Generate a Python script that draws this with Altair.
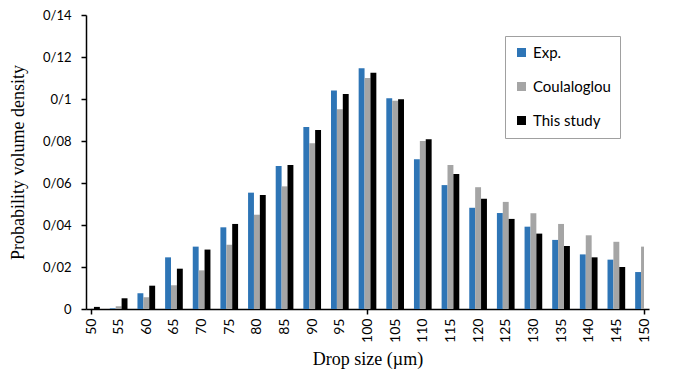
import altair as alt
import pandas as pd

sizes = [50, 55, 60, 65, 70, 75, 80, 85, 90, 95, 100, 105, 110, 115, 120, 125, 130, 135, 140, 145, 150]
exp_vals = [0.001, 0.0003, 0.0075, 0.0246, 0.0297, 0.0389, 0.0554, 0.0681, 0.0867, 0.1041, 0.1146,
            0.1003, 0.0713, 0.0590, 0.0482, 0.0457, 0.0392, 0.0329, 0.0260, 0.0235, 0.0176]
coul_vals = [0.0003, 0.0013, 0.0056, 0.0113, 0.0184, 0.0306, 0.0449, 0.0584, 0.0789, 0.0951, 0.1100,
             0.0992, 0.0800, 0.0686, 0.0580, 0.0510, 0.0456, 0.0405, 0.0351, 0.0320, 0.0297]
study_vals = [0.001, 0.0051, 0.0111, 0.0192, 0.0283, 0.0405, 0.0543, 0.0686, 0.0852, 0.1024, 0.1125,
              0.0999, 0.0808, 0.0643, 0.0525, 0.0429, 0.0359, 0.0300, 0.0246, 0.0200, 0.0170]
series = ["Exp.", "Coulaloglou", "This study"]
colors = ["#2E75B6", "#A5A5A5", "#000000"]
y_ticks = [0, 0.02, 0.04, 0.06, 0.08, 0.10, 0.12, 0.14]

rows = []
for j, (name, vals) in enumerate(zip(series, [exp_vals, coul_vals, study_vals])):
    for s, v in zip(sizes, vals):
        rows.append({"size": s, "value": v, "series": name, "order": j})
df = pd.DataFrame(rows)

bars = alt.Chart(df).transform_calculate(
    x0="min(150, max(50, datum.size + (datum.order - 1.5) * 1.066))",
    x1="min(150, max(50, datum.size + (datum.order - 0.5) * 1.066))",
).mark_bar(clip=True, orient="vertical").encode(
    x=alt.X("x0:Q",
            scale=alt.Scale(domain=[50, 150], nice=False, zero=False),
            axis=alt.Axis(values=sizes, title="Drop size (µm)", labelAngle=270,
                          labelFont="Lato", labelFontSize=14, labelColor="black",
                          titleFont="Liberation Serif", titleFontSize=18, titleFontWeight="normal",
                          titleColor="black", titlePadding=8,
                          domainColor="black", domainWidth=1.5,
                          tickColor="black", tickWidth=1.5, tickSize=5,
                          tickOpacity={"condition": {"test": "datum.value % 50 === 0", "value": 1}, "value": 0},
                          labelPadding=4, grid=False, labelFlush=False, labelOverlap=False)),
    x2="x1:Q",
    y=alt.Y("value:Q",
            scale=alt.Scale(domain=[0, 0.14], nice=False, padding=0),
            axis=alt.Axis(values=y_ticks, title="Probability volume density",
                          labelExpr="replace(format(datum.value, '~g'), '.', '/')",
                          labelFont="Lato", labelFontSize=13, labelColor="black",
                          titleFont="Liberation Serif", titleFontSize=18, titleFontWeight="normal",
                          titleColor="black", titlePadding=15,
                          domainColor="black", domainWidth=1.5,
                          tickColor="black", tickWidth=1.5, tickSize=5,
                          labelPadding=10, grid=False)),
    y2=alt.datum(0),
    color=alt.Color("series:N",
                    scale=alt.Scale(domain=series, range=colors),
                    sort=series,
                    legend=alt.Legend(title=None, orient="none", legendX=419, legendY=21,
                                      symbolType="square", symbolSize=81, symbolStrokeWidth=0,
                                      labelFont="Lato", labelFontSize=15, labelColor="black",
                                      strokeColor="#a0a0a0", padding=9, rowPadding=18,
                                      labelOffset=4)),
)

chart = bars.properties(
    width=563, height=294,
    autosize="none",
    padding={"left": 78, "top": 7, "right": 17, "bottom": 62},
).configure_view(stroke=None)

chart.save("out.html", embed_options={"renderer": "svg", "actions": False})
